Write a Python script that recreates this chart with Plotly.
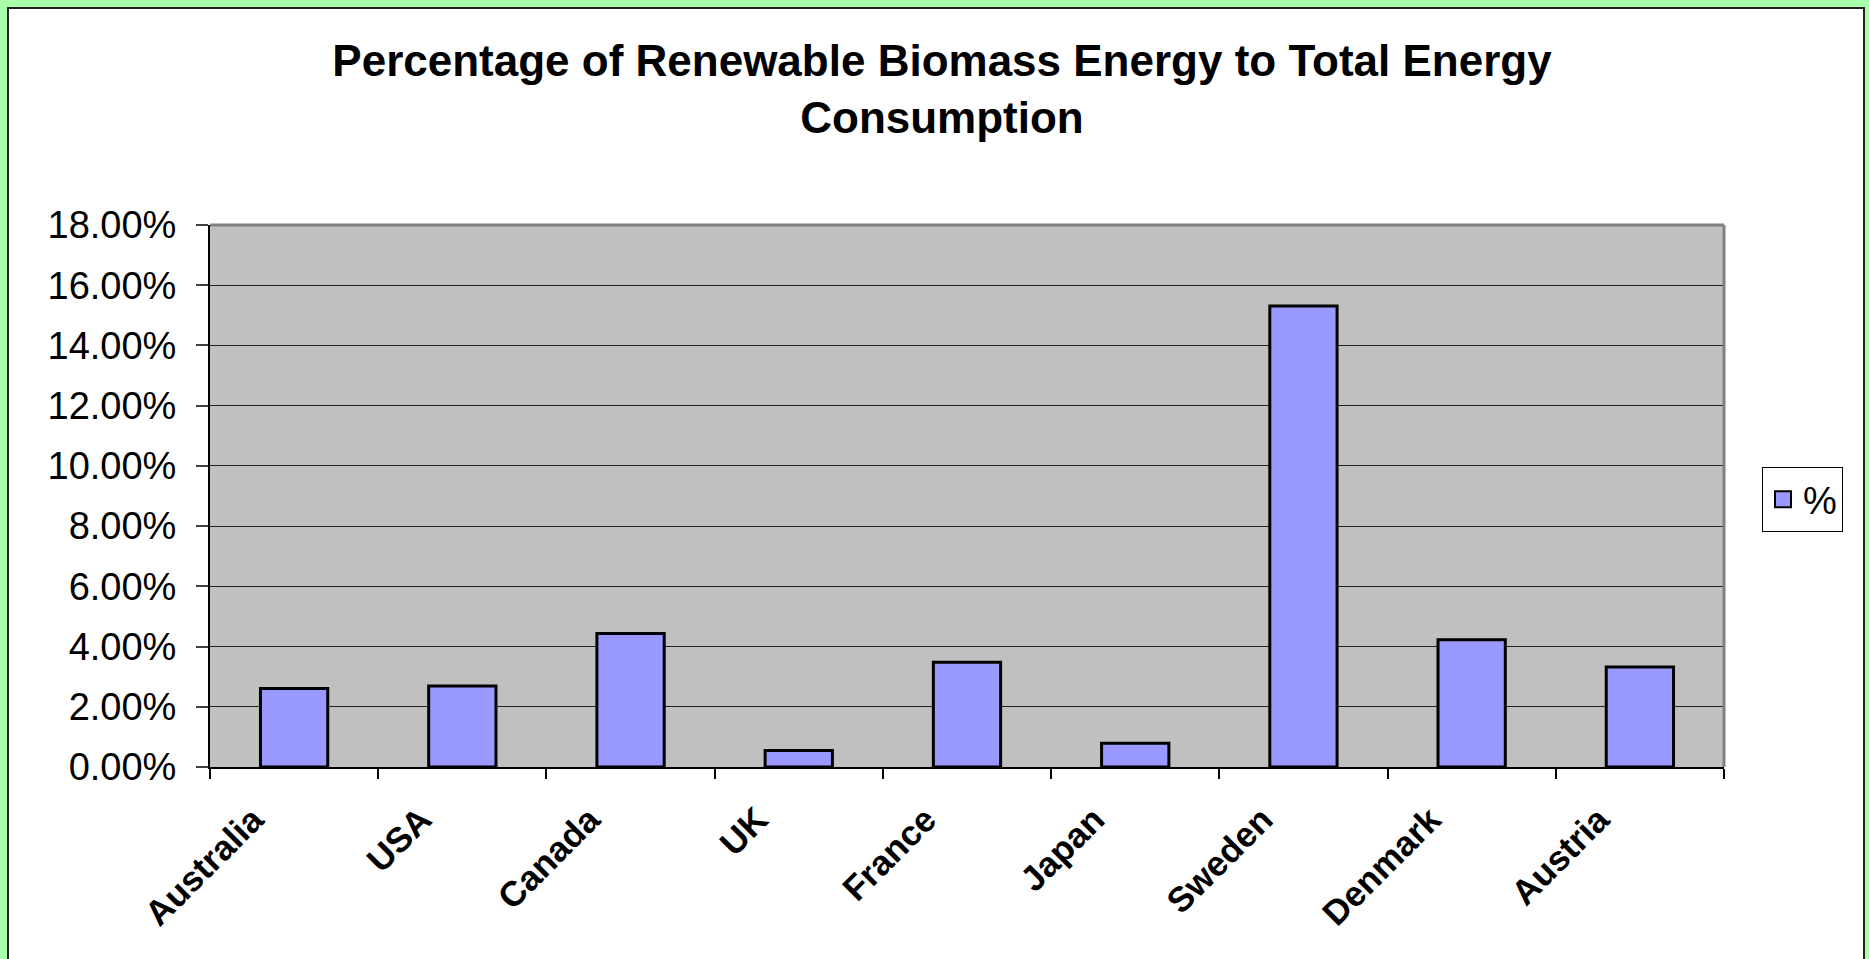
import plotly.graph_objects as go

# Share of renewable biomass energy in total energy consumption, by country
countries = ["Australia", "USA", "Canada", "UK", "France", "Japan", "Sweden", "Denmark", "Austria"]
biomass_share = [0.0261, 0.0269, 0.0443, 0.0055, 0.0348, 0.0079, 0.1531, 0.0423, 0.0332]
series_name = "%"
y_ticks = [0.0, 0.02, 0.04, 0.06, 0.08, 0.10, 0.12, 0.14, 0.16, 0.18]

W, H = 1869, 959
L, R, T, B = 210, 145, 225, 192
pw, ph = W - L - R, H - T - B

BAR_FILL = "#9999ff"


def px_x(x):
    return (x - L) / pw


def px_y(y):
    return (H - B - y) / ph


fig = go.Figure()
fig.add_trace(go.Bar(
    x=countries,
    y=biomass_share,
    name=series_name,
    marker=dict(color=BAR_FILL, line=dict(color="#000000", width=3)),
    showlegend=False,
))
# legend entry with a larger square swatch
fig.add_trace(go.Scatter(
    x=[None], y=[None],
    mode="markers",
    name=series_name,
    marker=dict(symbol="square", size=16, color=BAR_FILL,
                line=dict(color="#000000", width=2)),
    showlegend=True,
))

font_family = "Liberation Sans, Arial, sans-serif"

fig.update_layout(
    width=W, height=H, autosize=False,
    margin=dict(l=L, r=R, t=T, b=B, pad=0),
    paper_bgcolor="#aaffaa",
    plot_bgcolor="#c0c0c0",
    bargap=0.6,
    title=dict(
        text="<b>Percentage of Renewable Biomass Energy to Total Energy<br>Consumption</b>",
        font=dict(family=font_family, size=44, color="#000000"),
        x=942 / W, xref="container", xanchor="center",
        y=1 - 76 / H, yref="container", yanchor="top",
    ),
    xaxis=dict(
        tickangle=-45,
        tickfont=dict(family=font_family, size=35, color="#000000", weight="bold"),
        ticks="outside", ticklen=10, tickwidth=1.5, tickcolor="#000000",
        tickson="boundaries",
        ticklabelshift=-41,
        ticklabelstandoff=16,
        showline=True, linecolor="#000000", linewidth=2,
        showgrid=False,
    ),
    yaxis=dict(
        range=[0, 0.18],
        tickvals=y_ticks,
        tickformat=".2%",
        tickfont=dict(family=font_family, size=38, color="#000000"),
        ticks="outside", ticklen=12, tickwidth=1.5, tickcolor="#404040",
        ticklabelstandoff=12,
        showline=True, linecolor="#000000", linewidth=2,
        showgrid=True, gridcolor="#222222", gridwidth=1,
        zeroline=False,
    ),
    legend=dict(
        x=px_x(1762), y=px_y(467), xanchor="left", yanchor="top",
        bgcolor="#ffffff", bordercolor="#000000", borderwidth=1,
        font=dict(family=font_family, size=38, color="#000000"),
        itemsizing="trace",
    ),
    shapes=[
        # white chart panel with dark frame
        dict(type="rect", xref="paper", yref="paper", layer="below",
             x0=px_x(8), x1=px_x(1864), y0=px_y(975), y1=px_y(8),
             fillcolor="#ffffff", line=dict(color="#222222", width=2)),
        # grey plotting area
        dict(type="rect", xref="paper", yref="paper", layer="below",
             x0=0, x1=1, y0=0, y1=1,
             fillcolor="#c0c0c0", line=dict(width=0)),
        # grey top and right borders of the plot area
        dict(type="line", xref="paper", yref="paper",
             x0=0, x1=1, y0=1, y1=1, line=dict(color="#808080", width=3)),
        dict(type="line", xref="paper", yref="paper",
             x0=1, x1=1, y0=0, y1=1, line=dict(color="#808080", width=3)),
    ],
)

fig.write_html("out.html")
